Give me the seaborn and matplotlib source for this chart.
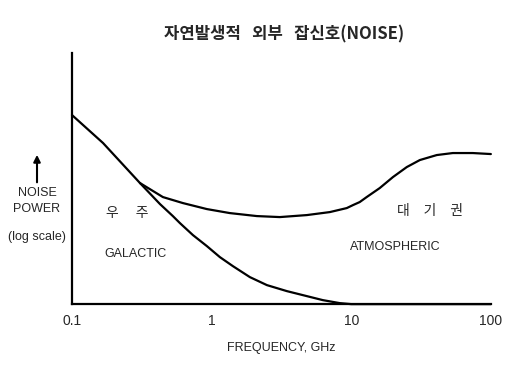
import numpy as np
import matplotlib
matplotlib.use("Agg")
import matplotlib.pyplot as plt
import seaborn as sns

# noise level in relative log units (0 = bottom of the axis)
galactic_freq = [0.1, 0.167, 0.307, 0.427, 0.528, 0.593, 0.735, 0.925, 1.146, 1.42, 1.88,
                 2.49, 3.46, 4.81, 6.26, 8.28, 10, 100]
galactic_level = [189, 161, 121, 100, 88, 81, 69, 58, 47, 38, 27, 19, 13, 8, 4, 1, 0, 0]

total_freq = [0.307, 0.448, 0.623, 0.925, 1.35, 2.11, 3.08, 4.81, 7.03, 9.29, 10.3, 11.5,
              12.9, 16.0, 19.9, 25.0, 31.0, 41.0, 53.4, 74.2, 100]
total_level = [121, 107, 101, 95, 91, 88, 87, 89, 92, 96, 99, 102, 107, 116, 127, 137, 144,
               149, 151, 151, 150]

tick_vals = [0.1, 1, 10, 100]
tick_labels = ["0.1", "1", "10", "100"]

sns.set_style("white")
plt.rcParams["font.family"] = ["Liberation Sans", "DejaVu Sans"]
kr = ["Noto Sans CJK KR", "DejaVu Sans"]

fig = plt.figure(figsize=(5.14, 3.84), dpi=100)
ax = fig.add_axes([0.140, 0.208, 0.815, 0.654])

sns.lineplot(x=galactic_freq, y=galactic_level, color="black", linewidth=1.6, ax=ax, clip_on=False)
sns.lineplot(x=total_freq, y=total_level, color="black", linewidth=1.6, ax=ax, clip_on=False)

ax.set_xscale("log")
ax.set_xlim(0.1, 100)
ax.set_ylim(0, 251)
ax.set_xticks(tick_vals)
ax.set_xticklabels(tick_labels, fontsize=10)
ax.minorticks_off()
ax.set_yticks([])
ax.tick_params(axis="x", direction="in", length=6, width=1.2, pad=7)
ax.set_xlabel("FREQUENCY, GHz", fontsize=9, labelpad=10)
for s in ["top", "right"]:
    ax.spines[s].set_visible(False)
for s in ["left", "bottom"]:
    ax.spines[s].set_linewidth(1.6)
    ax.spines[s].set_color("black")

fig.text(0.552, 0.909, "자연발생적   외부   잡신호(NOISE)", family=kr, fontsize=12,
         fontweight="bold", ha="center", va="center")

fig.text(0.072, 0.497, "NOISE", fontsize=9, ha="center", va="center")
fig.text(0.072, 0.456, "POWER", fontsize=9, ha="center", va="center")
fig.text(0.072, 0.383, "(log scale)", fontsize=9, ha="center", va="center")
ax.annotate("", xy=(0.072, 0.604), xytext=(0.072, 0.518), xycoords="figure fraction",
            textcoords="figure fraction",
            arrowprops=dict(arrowstyle="-|>", color="black", lw=1.5, mutation_scale=10))

ax.text(0.131, 0.363, "우　 주", family=kr, fontsize=10, ha="center", va="center", transform=ax.transAxes)
ax.text(0.151, 0.199, "GALACTIC", fontsize=9, ha="center", va="center", transform=ax.transAxes)
ax.text(0.854, 0.371, "대　기　권", family=kr, fontsize=10, ha="center", va="center", transform=ax.transAxes)
ax.text(0.771, 0.227, "ATMOSPHERIC", fontsize=9, ha="center", va="center", transform=ax.transAxes)

fig.savefig("out.png", dpi=100)
